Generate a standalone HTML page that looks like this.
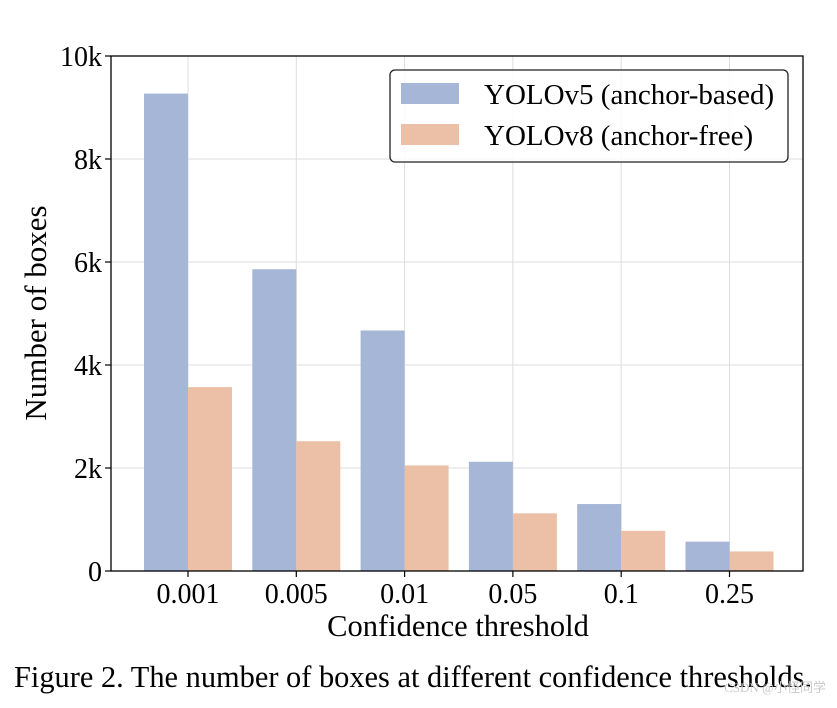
<!DOCTYPE html>
<html><head><meta charset="utf-8"><style>
body{margin:0;background:#fff;}
svg text{font-family:"Liberation Serif",serif;}
</style></head><body>
<svg width="837" height="703" viewBox="0 0 837 703">
<g id="grid"></g>
<g id="bars"></g>
<rect x="111" y="56" width="692" height="515" fill="none" stroke="#000" stroke-width="1.3"/>
<g id="ticks"></g>
<text x="458" y="636" font-size="30.5" text-anchor="middle">Confidence threshold</text>
<text transform="translate(46,313) rotate(-90)" font-size="31" text-anchor="middle">Number of boxes</text>
<g>
<rect x="390" y="70" width="398" height="92" rx="5" fill="#fff" fill-opacity="0.85" stroke="#222" stroke-width="1.3"/>
<rect x="401" y="83" width="58" height="21" fill="#a5b6d6"/>
<text x="484" y="104" font-size="29">YOLOv5 (anchor-based)</text>
<rect x="401" y="124" width="58" height="21" fill="#ecc0a6"/>
<text x="484" y="145" font-size="29">YOLOv8 (anchor-free)</text>
</g>
<text x="14" y="687" font-size="30.4">Figure 2. The number of boxes at different confidence thresholds.</text>
<text x="826" y="692" font-size="13" fill="#c8c8c8" text-anchor="end" font-family="Liberation Sans, Noto Sans CJK SC, sans-serif">CSDN @小怪同学</text>
</svg>
<script>
const categories=["0.001","0.005","0.01","0.05","0.1","0.25"];
const yolov5=[9270,5860,4670,2120,1300,570];
const yolov8=[3570,2520,2050,1120,780,380];
const yTicks=[0,2000,4000,6000,8000,10000];
const yTickLabels=["0","2k","4k","6k","8k","10k"];
const NS="http://www.w3.org/2000/svg";
const L=111,R=803,T=56,B=571,yMax=10000;
const y=v=>B-(v/yMax)*(B-T);
const step=108.3, x0=188;
const xc=i=>x0+i*step;
const bw=44;
function mk(tag,attrs,parent){const e=document.createElementNS(NS,tag);for(const k in attrs)e.setAttribute(k,attrs[k]);parent.appendChild(e);return e;}
const grid=document.getElementById('grid'),bars=document.getElementById('bars'),ticks=document.getElementById('ticks');
yTicks.forEach((v,i)=>{
  const g=mk('line',{x1:L,x2:R,y1:y(v),y2:y(v),stroke:'#ddd','stroke-width':1},grid);
  
  
  const t=mk('line',{x1:L-6,x2:L,y1:y(v),y2:y(v),stroke:'#000','stroke-width':1.2},ticks);
  
  
  const tx=mk('text',{x:L-9,y:y(v)+10,'font-size':28,'text-anchor':'end'},ticks);
  tx.textContent=yTickLabels[i];
  
  
});
categories.forEach((c,i)=>{
  const g=mk('line',{x1:xc(i),x2:xc(i),y1:T,y2:B,stroke:'#ddd','stroke-width':1},grid);
  
  
  const b1=mk('rect',{x:xc(i)-bw,y:y(yolov5[i]),width:bw,height:B-y(yolov5[i]),fill:'#a5b6d6'},bars);
  
  
  const b2=mk('rect',{x:xc(i),y:y(yolov8[i]),width:bw,height:B-y(yolov8[i]),fill:'#ecc0a6'},bars);
  
  
  const t=mk('line',{x1:xc(i),x2:xc(i),y1:B,y2:B+6,stroke:'#000','stroke-width':1.2},ticks);
  
  
  const tx=mk('text',{x:xc(i),y:B+32,'font-size':28,'text-anchor':'middle'},ticks);
  tx.textContent=c;
  
  
});
</script>
</body></html>
